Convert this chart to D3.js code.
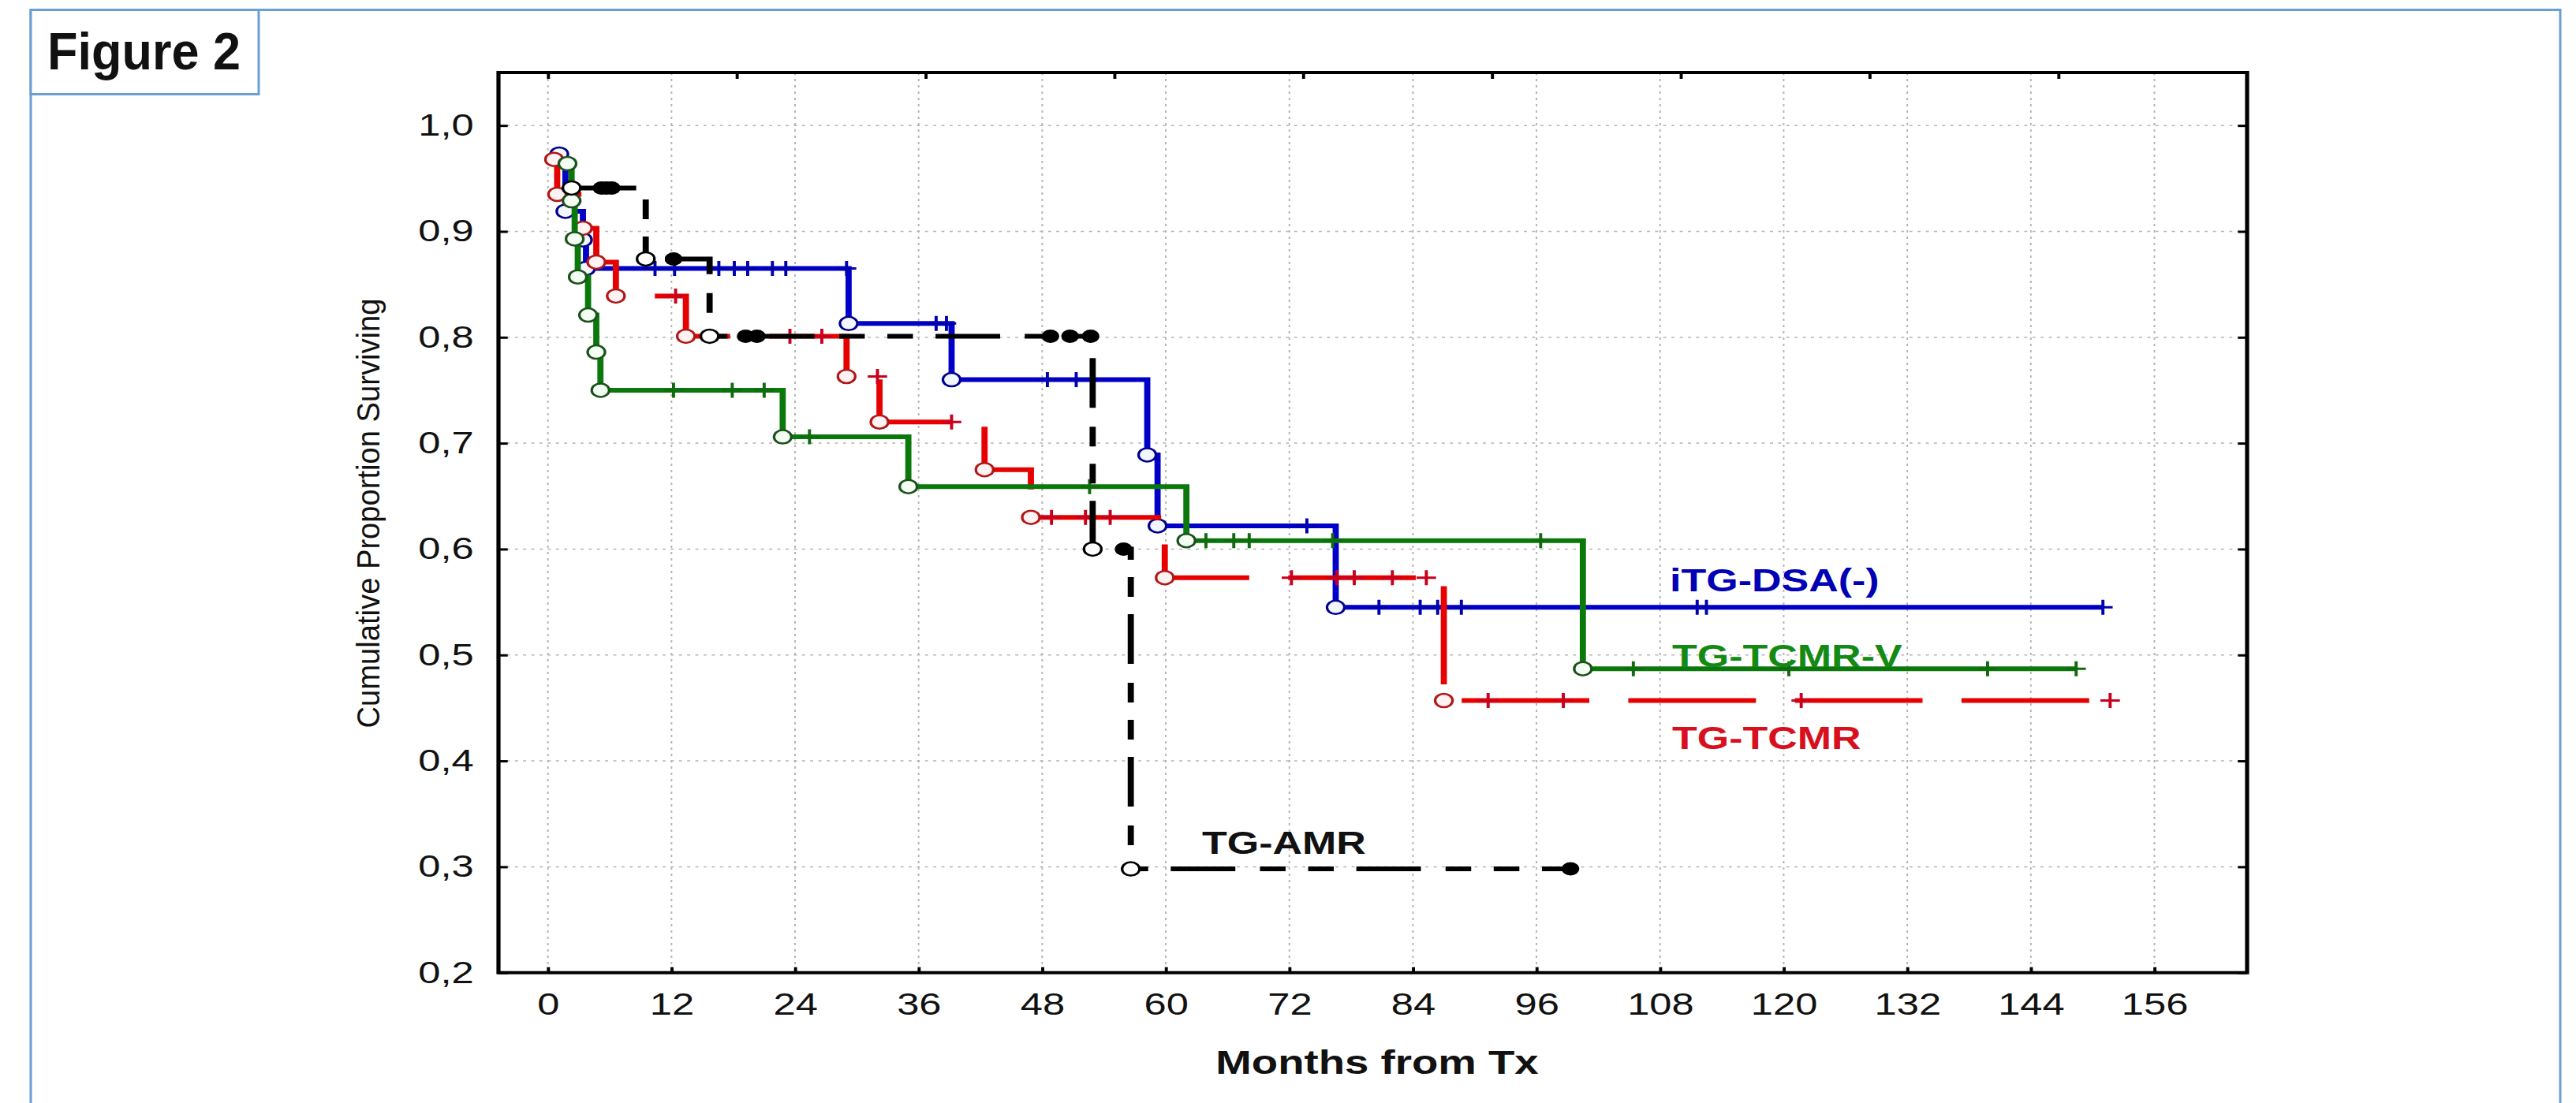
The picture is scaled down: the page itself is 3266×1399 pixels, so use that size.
<!DOCTYPE html>
<html>
<head>
<meta charset="utf-8">
<script src="https://cdnjs.cloudflare.com/ajax/libs/d3/7.8.5/d3.min.js"></script>
<style>
  body { margin: 0; background: #fff; }
  svg { display: block; }
  text { font-family: "Liberation Sans", Arial, sans-serif; fill: #111; }
</style>
</head>
<body>
<script>
var w = 3266;
var h = 1399;
// the original plot is stretched horizontally
var sx = 1.3;

// axis ticks
var xTicks = [0, 12, 24, 36, 48, 60, 72, 84, 96, 108, 120, 132, 144, 156];
var yTicks = [0.2, 0.3, 0.4, 0.5, 0.6, 0.7, 0.8, 0.9, 1.0];
var yTickLabels = ["0,2", "0,3", "0,4", "0,5", "0,6", "0,7", "0,8", "0,9", "1,0"];
var topTicks = [0, 18.33, 36.67, 55, 73.33, 91.67, 110, 128.33, 146.67];

// events: [months, cumulative proportion surviving], censored: months
var blueEvents = [[1.1, 0.973], [1.7, 0.919], [3.4, 0.892], [3.7, 0.865], [29.2, 0.813],
  [39.2, 0.760], [58.2, 0.689], [59.2, 0.622], [76.5, 0.545]];
var blueCensored = [10.4, 12.3, 16.6, 18.1, 19.4, 21.8, 23.1, 29.0, 37.7, 38.7, 48.5, 51.3,
  52.9, 73.7, 80.7, 84.7, 86.4, 88.7, 111.6, 112.5, 151.0];

var redEvents = [[0.6, 0.968], [0.9, 0.935], [3.4, 0.903], [4.7, 0.871], [6.6, 0.839],
  [13.4, 0.801], [29.0, 0.763], [32.2, 0.720], [42.4, 0.675], [46.9, 0.630], [59.9, 0.573],
  [87.0, 0.457]];
var redCensored = [12.4, 23.5, 26.6, 32.0, 39.2, 48.9, 52.2, 54.6, 72.2, 76.6, 78.3, 82.0,
  85.3, 91.3, 98.6, 121.7, 151.7];

var greenEvents = [[1.9, 0.964], [2.3, 0.929], [2.6, 0.893], [2.9, 0.857], [3.9, 0.821],
  [4.7, 0.786], [5.1, 0.750], [22.8, 0.706], [35.0, 0.659], [62.0, 0.608], [100.5, 0.487]];
var greenCensored = [12.2, 17.9, 21.0, 25.4, 52.6, 63.9, 66.6, 68.1, 76.2, 96.4, 105.4,
  120.5, 139.8, 148.4];

var blackEvents = [[2.3, 0.941], [9.5, 0.874], [15.7, 0.801], [52.9, 0.600], [56.6, 0.298]];
var blackCensored = [5.2, 5.7, 6.2, 12.2, 19.2, 20.3, 48.8, 50.7, 52.7, 55.9, 99.3];

window.onload = function() {

  var svg = d3.select("body")
              .append("svg")
              .attr("width", w)
              .attr("height", h);

  // page border and figure label box
  svg.append("rect")
     .attr("x", 39).attr("y", 12.5)
     .attr("width", 3207).attr("height", 1420)
     .attr("fill", "none").attr("stroke", "#6b9fd4").attr("stroke-width", 3);
  svg.append("rect")
     .attr("x", 39).attr("y", 12.5)
     .attr("width", 289).attr("height", 107)
     .attr("fill", "#fff").attr("stroke", "#6b9fd4").attr("stroke-width", 3);
  svg.append("text")
     .attr("x", 60).attr("y", 88)
     .attr("textLength", 245).attr("lengthAdjust", "spacingAndGlyphs")
     .style("font-size", "66px").style("font-weight", "bold")
     .text("Figure 2");

  var g = svg.append("g").attr("transform", "scale(" + sx + ",1)");

  var x = d3.scaleLinear().domain([-4.8, 165]).range([632 / sx, 2849 / sx]);
  var y = d3.scaleLinear().domain([0.2, 1.05]).range([1233.7, 92]);

  // dotted grid
  g.selectAll(".vgrid").data(xTicks).enter().append("line")
   .attr("x1", function(d) { return x(d); }).attr("x2", function(d) { return x(d); })
   .attr("y1", y(1.05)).attr("y2", y(0.2))
   .attr("stroke", "#b4b4b4").attr("stroke-width", 1.5).attr("stroke-dasharray", "3,5");
  g.selectAll(".hgrid").data(yTicks.slice(1)).enter().append("line")
   .attr("x1", x(-4.8)).attr("x2", x(165))
   .attr("y1", function(d) { return y(d); }).attr("y2", function(d) { return y(d); })
   .attr("stroke", "#b4b4b4").attr("stroke-width", 1.5).attr("stroke-dasharray", "3,5");

  // axes with inward ticks
  var xAxis = d3.axisBottom(x).tickValues(xTicks).tickSizeInner(-7).tickSizeOuter(0)
                .tickPadding(26).tickFormat(function(d) { return d; });
  var yAxis = d3.axisLeft(y).tickValues(yTicks).tickSizeInner(-9).tickSizeOuter(0)
                .tickPadding(24).tickFormat(function(d, i) { return yTickLabels[i]; });
  var topAxis = d3.axisTop(x).tickValues(topTicks).tickSizeInner(-8).tickSizeOuter(0).tickFormat("");
  var rightAxis = d3.axisRight(y).tickValues(yTicks).tickSizeInner(-9).tickSizeOuter(0).tickFormat("");

  var axes = [
    g.append("g").attr("transform", "translate(0," + y(0.2) + ")").call(xAxis),
    g.append("g").attr("transform", "translate(" + x(-4.8) + ",0)").call(yAxis),
    g.append("g").attr("transform", "translate(0," + y(1.05) + ")").call(topAxis),
    g.append("g").attr("transform", "translate(" + x(165) + ",0)").call(rightAxis)
  ];
  axes.forEach(function(a) {
    a.select(".domain").remove();
    a.selectAll("line").attr("stroke", "#000").attr("stroke-width", 3);
    a.selectAll("text").style("font-size", "39px")
     .style("font-family", "'Liberation Sans', Arial, sans-serif").attr("fill", "#111");
  });

  // frame
  g.append("rect")
   .attr("x", x(-4.8)).attr("y", y(1.05))
   .attr("width", x(165) - x(-4.8)).attr("height", y(0.2) - y(1.05))
   .attr("fill", "none").attr("stroke", "#000").attr("stroke-width", 4);

  // axis titles
  g.append("text")
   .attr("transform", "translate(" + (480.7 / sx) + ",651) rotate(-90)")
   .attr("text-anchor", "middle")
   .attr("textLength", 545).attr("lengthAdjust", "spacingAndGlyphs")
   .style("font-size", "31px")
   .text("Cumulative Proportion Surviving");
  g.append("text")
   .attr("x", 1746 / sx).attr("y", 1362)
   .attr("text-anchor", "middle")
   .style("font-size", "42px").style("font-weight", "bold")
   .text("Months from Tx");

  var line = d3.line()
               .x(function(d) { return x(d[0]); })
               .y(function(d) { return y(d[1]); })
               .curve(d3.curveStepAfter);

  function surv(events, t) {
    var s = events[0][1];
    events.forEach(function(e) { if (e[0] <= t) { s = e[1]; } });
    return s;
  }

  function drawSeries(events, censored, style) {
    var last = events[events.length - 1];
    var end = Math.max(last[0], d3.max(censored));
    var pts = events.concat([[end, last[1]]]);

    g.append("path")
     .attr("d", line(pts))
     .attr("fill", "none")
     .attr("stroke", style.color)
     .attr("stroke-width", 6)
     .attr("stroke-dasharray", style.dash || null)
     .attr("stroke-dashoffset", style.offset || 0);

    if (style.filledCensor) {
      g.selectAll(null).data(censored).enter().append("circle")
       .attr("cx", function(d) { return x(d); })
       .attr("cy", function(d) { return y(surv(events, d)); })
       .attr("r", 8.5)
       .attr("fill", style.color);
    } else {
      g.selectAll(null).data(censored).enter().append("path")
       .attr("d", function(d) {
         var cx = x(d), cy = y(surv(events, d));
         return "M" + (cx - 9.5) + "," + cy + "H" + (cx + 9.5) +
                "M" + cx + "," + (cy - 9.5) + "V" + (cy + 9.5);
       })
       .attr("stroke", style.censor)
       .attr("stroke-width", 3);
    }

    g.selectAll(null).data(events).enter().append("circle")
     .attr("cx", function(d) { return x(d[0]); })
     .attr("cy", function(d) { return y(d[1]); })
     .attr("r", 8.5)
     .attr("fill", style.fill)
     .attr("stroke", style.ring)
     .attr("stroke-width", 2.5);
  }

  drawSeries(blueEvents, blueCensored,
    {color: "#0000c8", censor: "#0000b0", ring: "#00008c", fill: "#f4f6ff"});
  drawSeries(redEvents, redCensored,
    {color: "#e60000", censor: "#c8001e", ring: "#b01818", fill: "#fff2f2",
     dash: "124.5 38", offset: 53.5});
  drawSeries(greenEvents, greenCensored,
    {color: "#0a780a", censor: "#106a10", ring: "#1e501e", fill: "#f2fff2"});
  drawSeries(blackEvents, blackCensored,
    {color: "#000", ring: "#000", fill: "#fff", filledCensor: true,
     dash: "63 24 25 22 25 22"});

  // series labels
  var lab = g.append("g").style("font-size", "40px").style("font-weight", "bold");
  lab.append("text").attr("x", 2117 / sx).attr("y", 750).style("fill", "#0000b4").text("iTG-DSA(-)");
  lab.append("text").attr("x", 2120 / sx).attr("y", 846).style("fill", "#138a13").text("TG-TCMR-V");
  lab.append("text").attr("x", 2120 / sx).attr("y", 950).style("fill", "#d8101e").text("TG-TCMR");
  lab.append("text").attr("x", 1524 / sx).attr("y", 1083).style("fill", "#111").text("TG-AMR");
};
</script>
</body>
</html>
